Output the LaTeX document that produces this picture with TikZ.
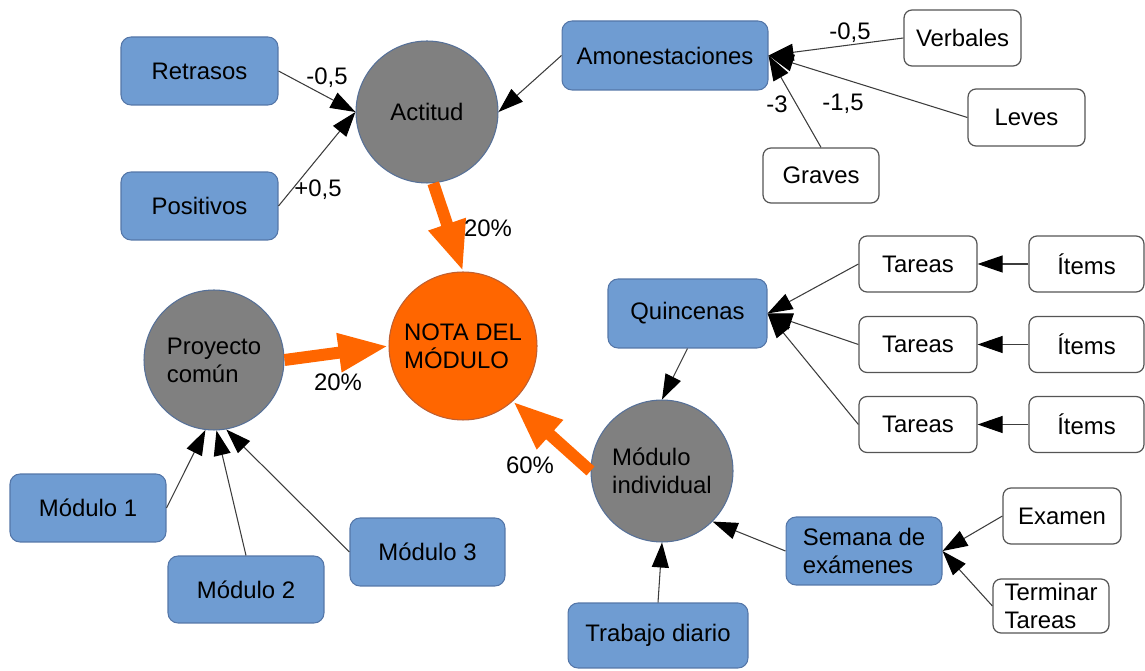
\documentclass[tikz,border=0pt]{standalone}
\usepackage{fontspec}
\setmainfont{Liberation Sans}
\usetikzlibrary{arrows.meta}
\definecolor{boxblue}{RGB}{111,156,210}
\definecolor{boxblueline}{RGB}{84,118,168}
\definecolor{circgray}{RGB}{128,128,128}
\definecolor{circline}{RGB}{86,112,152}
\definecolor{notaorange}{RGB}{255,102,0}
\definecolor{notaline}{RGB}{190,95,50}
\definecolor{wline}{RGB}{85,85,85}
\definecolor{connc}{RGB}{60,60,60}
\begin{document}
\begin{tikzpicture}[x=0.02cm,y=-0.02cm,
  every node/.style={font=\fontsize{13.6}{16}\selectfont, inner sep=0pt, align=left},
  bluebox/.style={draw=boxblueline, fill=boxblue, rounded corners=0.2cm, line width=0.6pt},
  whitebox/.style={draw=wline, fill=white, rounded corners=0.16cm, line width=0.7pt},
  graycirc/.style={circle, draw=circline, fill=circgray, line width=0.6pt},
  notacirc/.style={circle, draw=notaline, fill=notaorange, line width=0.6pt},
  conn/.style={draw=connc, line width=0.6pt, -{Triangle[length=0.5cm,width=0.34cm,color=black]}},
  bigarrow/.style={draw=notaorange, line width=0.24cm, -{Triangle[length=1cm,width=0.72cm]}}]
\useasboundingbox (0,0) rectangle (1145,671);

% Actitud group
\node[bluebox, minimum width=3.14cm, minimum height=1.36cm] (retr) at (199.5,71) {Retrasos};
\node[bluebox, minimum width=3.14cm, minimum height=1.36cm] (posi) at (199.5,206) {Positivos};
\node[graycirc, minimum size=2.84cm] (act) at (427,112) {Actitud};
\node[bluebox, minimum width=4.12cm, minimum height=1.38cm] (amon) at (665,55.5) {Amonestaciones};
\node[whitebox, minimum width=2.34cm, minimum height=1.12cm] (verb) at (962.5,38) {Verbales};
\node[whitebox, minimum width=2.34cm, minimum height=1.14cm] (leves) at (1026.5,117.5) {Leves};
\node[whitebox, minimum width=2.32cm, minimum height=1.1cm] (grav) at (821,175.5) {Graves};

% centre
\node[notacirc, minimum size=2.96cm] (nota) at (463,346) {NOTA DEL\\MÓDULO};

% Proyecto comun group
\node[graycirc, minimum size=2.8cm] (pc) at (214,360) {Proyecto\\común};
\node[bluebox, minimum width=3.12cm, minimum height=1.36cm] (m1) at (88,508) {Módulo 1};
\node[bluebox, minimum width=3.12cm, minimum height=1.34cm] (m2) at (246,589.5) {Módulo 2};
\node[bluebox, minimum width=3.1cm, minimum height=1.36cm] (m3) at (427.5,552) {Módulo 3};

% Modulo individual group
\node[graycirc, minimum size=2.84cm] (mi) at (662,471) {Módulo\\individual};
\node[bluebox, minimum width=3.18cm, minimum height=1.38cm] (quin) at (687.5,313.5) {Quincenas};
\node[whitebox, minimum width=2.36cm, minimum height=1.12cm] (t1) at (918,264) {Tareas};
\node[whitebox, minimum width=2.36cm, minimum height=1.12cm] (t2) at (918,344.5) {Tareas};
\node[whitebox, minimum width=2.36cm, minimum height=1.12cm] (t3) at (918,424.5) {Tareas};
\node[whitebox, minimum width=2.3cm, minimum height=1.12cm] (i1) at (1086.5,264) {Ítems};
\node[whitebox, minimum width=2.3cm, minimum height=1.12cm] (i2) at (1086.5,344.5) {Ítems};
\node[whitebox, minimum width=2.3cm, minimum height=1.12cm] (i3) at (1086.5,424.5) {Ítems};
\node[bluebox, minimum width=3.6cm, minimum height=1.3cm] (trab) at (658,635.5) {Trabajo diario};
\node[bluebox, minimum width=3.12cm, minimum height=1.36cm] (sem) at (864,551) {Semana de\\exámenes};
\node[whitebox, minimum width=2.36cm, minimum height=1.12cm] (exam) at (1062,516) {Examen};
\node[whitebox, minimum width=2.32cm, minimum height=1.08cm] (term) at (1051,606) {Terminar\\Tareas};

% connectors
\draw[conn] (retr.east) -- (act.west);
\draw[conn] (posi.east) -- (act.west);
\draw[conn] (amon.west) -- (act.east);
\draw[conn] (verb.west) -- (amon.east);
\draw[conn] (leves.west) -- (amon.east);
\draw[conn] (grav.north) -- (amon.east);
\draw[conn] (m1.east) -- (pc.-97);
\draw[conn] (m2.north) -- (pc.-88);
\draw[conn] (m3.west) -- (pc.-80);
\draw[conn] (quin.south) -- (mi.north);
\draw[conn] (t1.west) -- (quin.east);
\draw[conn] (t2.west) -- (quin.east);
\draw[conn] (t3.west) -- (quin.east);
\draw[conn] (i1.west) -- (t1.east);
\draw[conn] (i2.west) -- (t2.east);
\draw[conn] (i3.west) -- (t3.east);
\draw[conn] (sem.west) -- (mi.-45);
\draw[conn] (trab.north) -- (mi.south);
\draw[conn] (exam.west) -- (sem.east);
\draw[conn] (term.west) -- (sem.east);

\draw[bigarrow] (act.-85) -- (nota.north);
\draw[bigarrow] (pc.east) -- (nota.west);
\draw[bigarrow] (mi.west) -- (nota.-48);

% labels
\node (lr) at (327,78) {-0,5};
\node (lp) at (318,190) {+0,5};
\node (la) at (488,228) {20\%};
\node (lv) at (850,33) {-0,5};
\node (lg) at (777,104) {-3};
\node (ll) at (843,104) {-1,5};
\node (lpc) at (338,382) {20\%};
\node (lmi) at (530,465) {60\%};
\end{tikzpicture}
\end{document}
